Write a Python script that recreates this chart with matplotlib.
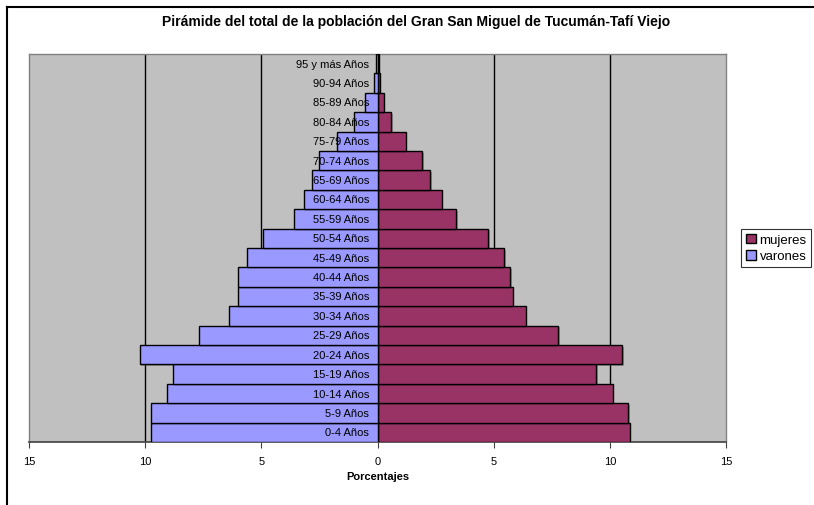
import matplotlib.pyplot as plt
from matplotlib.lines import Line2D
from matplotlib.patches import Patch

plt.rcParams['font.family'] = ['Liberation Sans', 'DejaVu Sans']

# age groups, bottom to top
grupos = ['0-4 Años', '5-9 Años', '10-14 Años', '15-19 Años', '20-24 Años',
          '25-29 Años', '30-34 Años', '35-39 Años', '40-44 Años', '45-49 Años',
          '50-54 Años', '55-59 Años', '60-64 Años', '65-69 Años', '70-74 Años',
          '75-79 Años', '80-84 Años', '85-89 Años', '90-94 Años', '95 y más Años']

# percentages
varones = [9.75, 9.75, 9.08, 8.81, 10.23, 7.69, 6.39, 6.02, 5.99, 5.60,
           4.91, 3.60, 3.17, 2.84, 2.53, 1.75, 1.03, 0.54, 0.17, 0.05]
mujeres = [10.85, 10.78, 10.13, 9.40, 10.53, 7.78, 6.38, 5.82, 5.71, 5.45,
           4.76, 3.38, 2.76, 2.28, 1.91, 1.21, 0.58, 0.26, 0.10, 0.05]

xticks = [-15, -10, -5, 0, 5, 10, 15]

col_muj = '#993366'
col_var = '#9999FF'

fig = plt.figure(figsize=(8.14, 5.06), dpi=100)
ax = fig.add_axes([29 / 814, 1 - 443 / 506, 697 / 814, 388 / 506])
ax.set_facecolor('#C0C0C0')

y = list(range(len(grupos)))
neg_var = [-v for v in varones]

# light shadow behind the bars
sh_y = [i - 0.08 for i in y]
ax.barh(sh_y, neg_var, height=1.0, left=0.07, color='#555555', alpha=0.45,
        linewidth=0, zorder=2)
ax.barh(sh_y, mujeres, height=1.0, left=0.07, color='#555555', alpha=0.45,
        linewidth=0, zorder=2)

ax.barh(y, mujeres, height=1.0, color=col_muj, edgecolor='black',
        linewidth=1, zorder=3, label='mujeres')
ax.barh(y, neg_var, height=1.0, color=col_var, edgecolor='black',
        linewidth=1, zorder=3, label='varones')

for i, g in enumerate(grupos):
    ax.text(-0.37, i, g, ha='right', va='center', fontsize=8, zorder=5)

for gx in [-10, -5, 5, 10]:
    ax.axvline(gx, color='black', linewidth=1, zorder=1)

ax.set_xlim(-15, 15)
ax.set_ylim(-0.5, len(grupos) - 0.5)
ax.set_xticks(xticks)
ax.set_xticklabels([str(abs(t)) for t in xticks], fontsize=8)
ax.set_yticks([])
ax.tick_params(axis='x', direction='out', length=4, color='#404040', pad=6)
ax.set_xlabel('Porcentajes', fontsize=8, fontweight='bold', labelpad=4)

for s in ['top', 'left', 'right']:
    ax.spines[s].set_color('#808080')
    ax.spines[s].set_linewidth(1)
ax.spines['bottom'].set_color('#404040')
ax.spines['bottom'].set_linewidth(1.2)

fig.text(416 / 814, 1 - 22 / 506,
         'Pirámide del total de la población del Gran San Miguel de Tucumán-Tafí Viejo',
         ha='center', va='center', fontsize=10, fontweight='bold')

handles = [Patch(facecolor=col_muj, edgecolor='black', label='mujeres'),
           Patch(facecolor=col_var, edgecolor='black', label='varones')]
leg = fig.legend(handles=handles, loc='center left',
                 bbox_to_anchor=(741 / 814, 1 - 249 / 506), fontsize=9.5,
                 frameon=True, fancybox=False, handlelength=0.75,
                 handleheight=0.75, handletextpad=0.3, borderpad=0.35,
                 labelspacing=0.3, borderaxespad=0)
leg.get_frame().set_edgecolor('black')
leg.get_frame().set_linewidth(0.8)

# chart area border (top and left only)
fig.add_artist(Line2D([7 / 814, 1], [1 - 8 / 506, 1 - 8 / 506],
                      color='black', linewidth=1.5))
fig.add_artist(Line2D([7 / 814, 7 / 814], [0, 1 - 8 / 506],
                      color='black', linewidth=1.5))

fig.savefig('out.png', dpi=100)
